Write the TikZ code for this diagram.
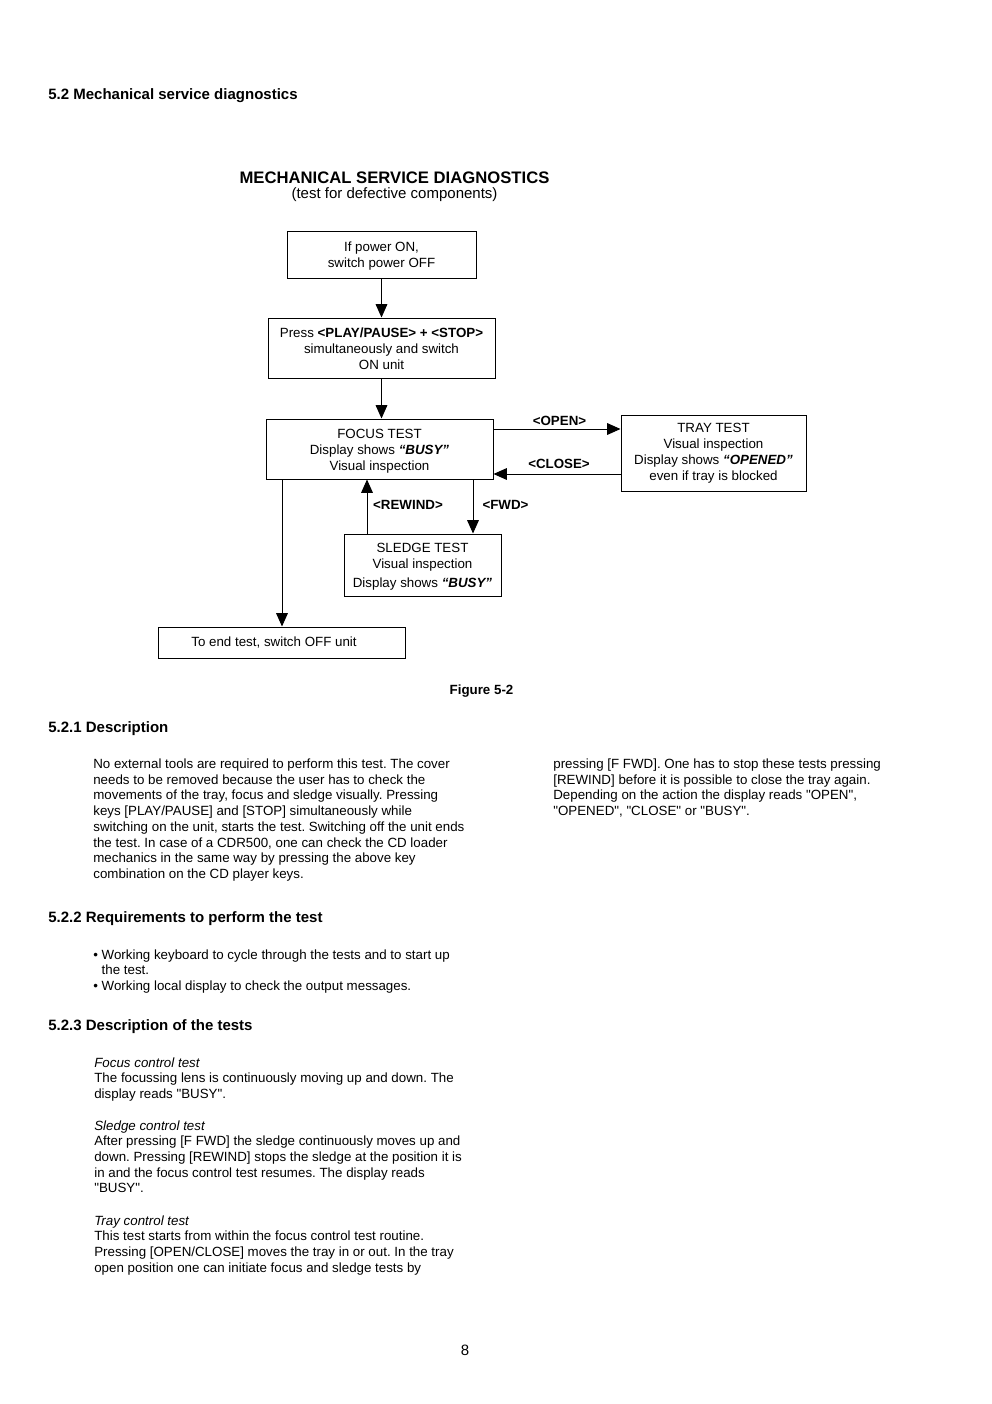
\documentclass[tikz,border=0pt]{standalone}
\usepackage{fontspec}
\setmainfont{Liberation Sans}
\newfontfamily\plainsans{Liberation Sans}
\newcommand\sq{{\plainsans\char34}}
\usetikzlibrary{arrows.meta}
\begin{document}
\frenchspacing
\begin{tikzpicture}[x=0.6pt,y=-0.6pt,
  box/.style={draw,line width=0.6pt,inner sep=0pt,align=center,font=\fontsize{8}{9.6}\selectfont},
  arr/.style={line width=0.6pt,-{Triangle[length=8pt,width=7pt]}},
  lbl/.style={font=\bfseries\fontsize{8}{9.6}\selectfont,inner sep=0pt},
  body/.style={anchor=base west,align=left,inner sep=0pt,font=\fontsize{8}{9.42}\selectfont},
  head/.style={anchor=base west,inner sep=0pt,font=\bfseries\fontsize{9}{11}\selectfont}]
\useasboundingbox[fill=white] (0,0) rectangle (992,1404);

% headings
\node[head] (h52) at (48,100) {5.2 Mechanical service diagnostics};
\node[anchor=base,inner sep=0pt,font=\bfseries\fontsize{10}{12}\selectfont] (title) at (394.5,183) {MECHANICAL SERVICE DIAGNOSTICS};
\node[anchor=base,inner sep=0pt,font=\fontsize{9}{11}\selectfont] (subtitle) at (394.5,198) {(test for defective components)};

% flowchart boxes
\node[box,minimum width=113.4pt,minimum height=28.2pt] (b1) at (381.5,254.5) {\rule{0pt}{8pt}If power ON,\\switch power OFF};
\node[box,minimum width=136.2pt,minimum height=36pt] (b2) at (381.5,348) {\rule{0pt}{7pt}Press \textbf{<PLAY/PAUSE> + <STOP>}\\simultaneously and switch\\ON unit};
\node[box,minimum width=136.2pt,minimum height=36pt] (focus) at (379.5,449) {\rule{0pt}{8pt}FOCUS TEST\\Display shows \textbf{\textit{“BUSY”}}\\Visual inspection};
\node[box,minimum width=111pt,minimum height=45.6pt] (tray) at (713.5,453) {TRAY TEST\\Visual inspection\\Display shows \textbf{\textit{“OPENED”}}\\even if tray is blocked};
\node[box,minimum width=94.2pt,minimum height=37.2pt] (sledge) at (422.5,565) {\rule{0pt}{8pt}SLEDGE TEST\\Visual inspection\\[2pt]Display shows \textbf{\textit{“BUSY”}}};
\node[box,minimum width=148.2pt,minimum height=18.6pt] (endb) at (281.5,642.5) {To end test, switch OFF unit\rule{9pt}{0pt}};

% helper coordinates
\coordinate (yopen) at (0,429);
\coordinate (yclose) at (0,474);
\coordinate (xrew) at (367,0);
\coordinate (xfwd) at (473,0);
\coordinate (xend) at (282,0);

% connectors
\draw[arr] (b1.south) -- (b2.north);
\draw[arr] (b2.south) -- (b2.south |- focus.north);
\draw[arr] (focus.east |- yopen) -- (tray.west |- yopen);
\draw[arr] (tray.west |- yclose) -- (focus.east |- yclose);
\draw[arr] (sledge.north -| xrew) -- (focus.south -| xrew);
\draw[arr] (focus.south -| xfwd) -- (sledge.north -| xfwd);
\draw[arr] (focus.south -| xend) -- (endb.north -| xend);

% connector labels
\node[lbl] (lopen) at (559.5,420.5) {<OPEN>};
\node[lbl] (lclose) at (559,463.5) {<CLOSE>};
\node[lbl] (lrew) at (408,504.5) {<REWIND>};
\node[lbl] (lfwd) at (505.5,504.5) {<FWD>};

\node[anchor=base,inner sep=0pt,font=\bfseries\fontsize{8}{9.6}\selectfont] (fig) at (481.5,694) {Figure 5-2};

% 5.2.1
\node[head] (h521) at (48,732) {5.2.1 Description};
\node[body] (p1) at (93,878.4) {No external tools are required to perform this test. The cover\\
needs to be removed because the user has to check the\\
movements of the tray, focus and sledge visually. Pressing\\
keys {[}PLAY/PAUSE] and {[}STOP] simultaneously while\\
switching on the unit, starts the test. Switching off the unit ends\\
the test. In case of a CDR500, one can check the CD loader\\
mechanics in the same way by pressing the above key\\
combination on the CD player keys.};
\node[body] (p2) at (553,815.6) {pressing {[}F FWD]. One has to stop these tests pressing\\
{[}REWIND] before it is possible to close the tray again.\\
Depending on the action the display reads \sq OPEN\sq,\\
\sq OPENED\sq, \sq CLOSE\sq\ or \sq BUSY\sq.};

% 5.2.2
\node[head] (h522) at (48,922) {5.2.2 Requirements to perform the test};
\node[body] (bul1) at (93,974.7) {•\ Working keyboard to cycle through the tests and to start up\\
\hphantom{•\ }the test.};
\node[body] (bul2) at (93,990.4) {•\ Working local display to check the output messages.};

% 5.2.3
\node[head] (h523) at (48,1030) {5.2.3 Description of the tests};
\node[body] (t1) at (94,1098.4) {\textit{Focus control test}\\
The focussing lens is continuously moving up and down. The\\
display reads \sq BUSY\sq.};
\node[body] (t2) at (94,1192.8) {\textit{Sledge control test}\\
After pressing {[}F FWD] the sledge continuously moves up and\\
down. Pressing {[}REWIND] stops the sledge at the position it is\\
in and the focus control test resumes. The display reads\\
\sq BUSY\sq.};
\node[body] (t3) at (94,1272.1) {\textit{Tray control test}\\
This test starts from within the focus control test routine.\\
Pressing {[}OPEN/CLOSE] moves the tray in or out. In the tray\\
open position one can initiate focus and sledge tests by};

\node[anchor=base,inner sep=0pt,font=\fontsize{9}{11}\selectfont] (pnum) at (465,1355) {8};
\end{tikzpicture}
\end{document}
